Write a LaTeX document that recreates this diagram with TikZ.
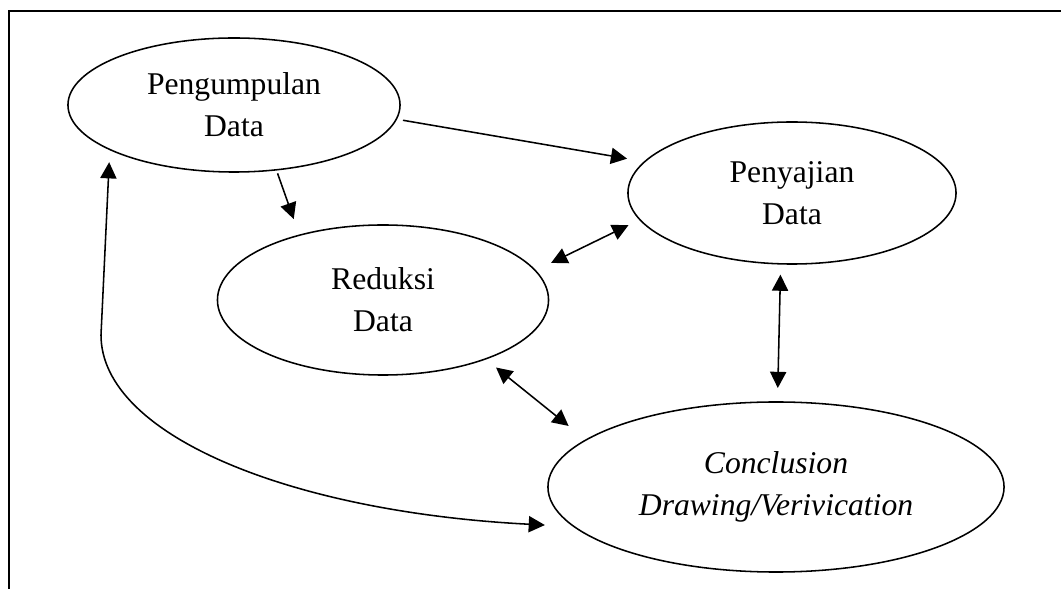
\documentclass[tikz,border=0pt]{standalone}
\usepackage{fontspec}
\setmainfont{Liberation Serif}
\usetikzlibrary{shapes.geometric,arrows.meta}

\begin{document}
\begin{tikzpicture}[x=0.025cm,y=-0.025cm,
		bubble/.style={draw,ellipse,line width=1.1pt,inner sep=0pt,align=center,font=\fontsize{22.5}{30}\selectfont},
		link/.style={line width=1.1pt,-{Triangle[length=11.5pt,width=11.5pt]}},
		both/.style={line width=1.1pt,{Triangle[length=11.5pt,width=11.5pt]}-{Triangle[length=11.5pt,width=11.5pt]}}]
			\useasboundingbox (0,0) rectangle (1061,589);
			\draw[line width=1.3pt] (1061,11) -| (9,589);
			\node[bubble,minimum width=8.3cm,minimum height=3.35cm] (peng) at (234,105) {Pengumpulan\\Data};
			\node[bubble,minimum width=8.275cm,minimum height=3.75cm] (redu) at (383,300) {Reduksi\\Data};
			\node[bubble,minimum width=8.2cm,minimum height=3.55cm] (peny) at (792,193) {Penyajian\\Data};
			\node[bubble,minimum width=11.4cm,minimum height=4.25cm,font=\fontsize{22.5}{30}\selectfont\itshape] (conc) at (776,487) {Conclusion\\Drawing/Verivication};
			\draw[link,shorten <=0.15cm,shorten >=0.425cm] (peng.-5.7) -- (peny.168);
			\draw[link,shorten <=0.075cm,shorten >=0.41cm] (peng.-57.8) -- (redu.142.6);
			\draw[both,shorten <=0.42cm,shorten >=0.3cm] (redu.11) -- (peny.-170.5);
			\draw[both,shorten <=0.25cm,shorten >=0.33cm] (peny.-99.4) -- (conc.89.5);
			\draw[both,shorten <=0.32cm,shorten >=0.54cm] (redu.-30) -- (conc.166.4);
			\draw[both,shorten <=0.3cm,shorten >=0.7cm] (peng.-160.7) -- (101,335) .. controls (101,435) and (290,512) .. (conc.191.8);
		\end{tikzpicture}
\end{document}
